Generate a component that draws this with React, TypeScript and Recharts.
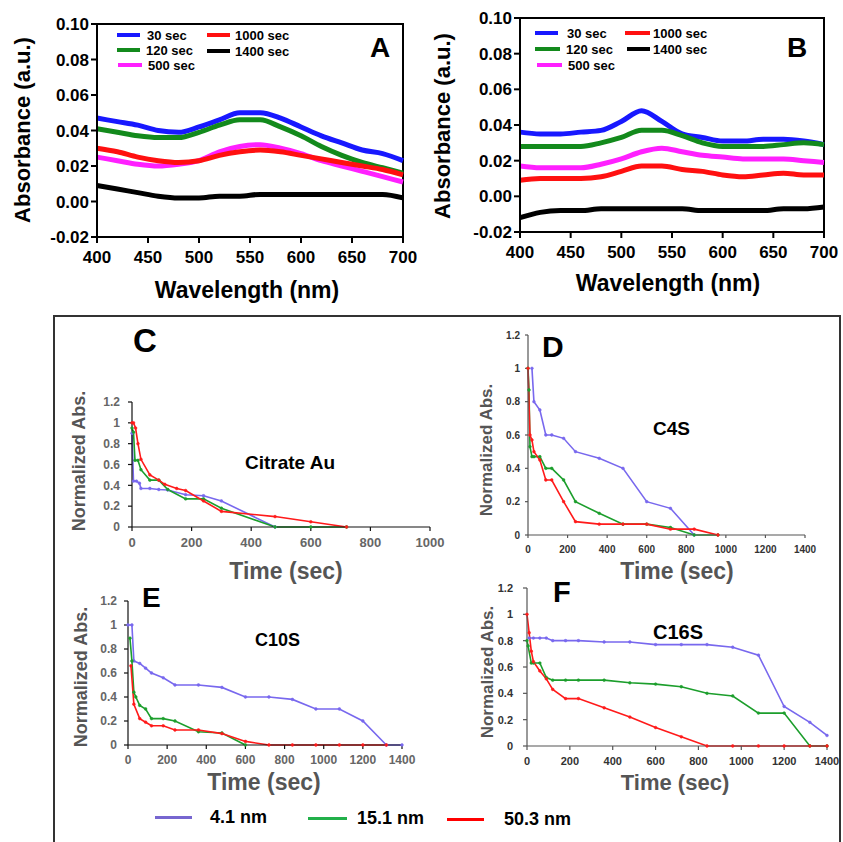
import React from 'react';
import { LineChart, Line, XAxis, YAxis, ReferenceArea } from 'recharts';

const FONT = '"Liberation Sans", Arial, Helvetica, sans-serif';

// ---------- Spectra (panels A, B) ----------
const wavelengths = [400, 420, 440, 460, 480, 500, 520, 540, 560, 580, 600, 620, 640, 660, 680, 700];
const wlTicks = [400, 450, 500, 550, 600, 650, 700];
const absTicks = [-0.02, 0, 0.02, 0.04, 0.06, 0.08, 0.1];

const aSec30 = [0.047, 0.045, 0.043, 0.040, 0.039, 0.042, 0.046, 0.050, 0.050, 0.047, 0.042, 0.037, 0.033, 0.029, 0.027, 0.023];
const aSec120 = [0.041, 0.039, 0.037, 0.036, 0.036, 0.039, 0.043, 0.046, 0.046, 0.042, 0.037, 0.031, 0.026, 0.022, 0.019, 0.016];
const aSec500 = [0.025, 0.023, 0.021, 0.020, 0.021, 0.023, 0.028, 0.031, 0.032, 0.030, 0.027, 0.023, 0.020, 0.017, 0.014, 0.011];
const aSec1000 = [0.030, 0.028, 0.025, 0.023, 0.022, 0.023, 0.026, 0.028, 0.029, 0.028, 0.026, 0.024, 0.022, 0.020, 0.018, 0.015];
const aSec1400 = [0.009, 0.007, 0.005, 0.003, 0.002, 0.002, 0.003, 0.003, 0.004, 0.004, 0.004, 0.004, 0.004, 0.004, 0.004, 0.002];

const bSec30 = [0.036, 0.035, 0.035, 0.036, 0.037, 0.042, 0.048, 0.042, 0.035, 0.033, 0.031, 0.031, 0.032, 0.032, 0.031, 0.029];
const bSec120 = [0.028, 0.028, 0.028, 0.028, 0.030, 0.033, 0.037, 0.037, 0.034, 0.030, 0.028, 0.028, 0.028, 0.029, 0.030, 0.029];
const bSec500 = [0.017, 0.016, 0.016, 0.016, 0.018, 0.021, 0.025, 0.027, 0.025, 0.023, 0.022, 0.021, 0.021, 0.021, 0.020, 0.019];
const bSec1000 = [0.009, 0.010, 0.010, 0.010, 0.011, 0.014, 0.017, 0.017, 0.015, 0.014, 0.012, 0.011, 0.012, 0.013, 0.012, 0.012];
const bSec1400 = [-0.012, -0.009, -0.008, -0.008, -0.007, -0.007, -0.007, -0.007, -0.007, -0.008, -0.008, -0.008, -0.008, -0.007, -0.007, -0.006];

const spectraSeries = [
  { key: 's30', name: '30 sec', color: '#1818ff' },
  { key: 's120', name: '120 sec', color: '#138a1c' },
  { key: 's500', name: '500 sec', color: '#ff20ff' },
  { key: 's1000', name: '1000 sec', color: '#ff1010' },
  { key: 's1400', name: '1400 sec', color: '#000000' },
];

function buildRows(s30: number[], s120: number[], s500: number[], s1000: number[], s1400: number[]) {
  return wavelengths.map((w, i) => ({ w, s30: s30[i], s120: s120[i], s500: s500[i], s1000: s1000[i], s1400: s1400[i] }));
}
const rowsA = buildRows(aSec30, aSec120, aSec500, aSec1000, aSec1400);
const rowsB = buildRows(bSec30, bSec120, bSec500, bSec1000, bSec1400);

// ---------- Time courses (panels C-F) ----------
const sizeSeries = [
  { name: '4.1 nm', color: '#7868ee', legend: '#7766d0' },
  { name: '15.1 nm', color: '#1c9e2c', legend: '#22b04a' },
  { name: '50.3 nm', color: '#ff1a1a', legend: '#ff0000' },
];

const cBlueT = [0, 5, 15, 25, 30, 60, 90, 120, 180, 240, 300, 480];
const cBlueY = [0.9, 0.44, 0.44, 0.42, 0.37, 0.37, 0.36, 0.355, 0.31, 0.30, 0.25, 0];
const cGreenT = [0, 5, 10, 20, 30, 60, 90, 120, 180, 240, 300, 480, 600, 720];
const cGreenY = [0.95, 0.91, 0.64, 0.64, 0.55, 0.45, 0.45, 0.36, 0.27, 0.27, 0.18, 0, 0, 0];
const cRedT = [0, 5, 12, 20, 30, 60, 90, 110, 150, 180, 240, 300, 480, 600, 720];
const cRedY = [1.0, 1.0, 0.95, 0.80, 0.65, 0.50, 0.45, 0.41, 0.37, 0.35, 0.25, 0.15, 0.10, 0.05, 0];

const dBlueT = [20, 30, 60, 90, 120, 180, 240, 360, 480, 600, 720, 840];
const dBlueY = [1.0, 0.80, 0.75, 0.60, 0.60, 0.58, 0.50, 0.46, 0.40, 0.20, 0.16, 0];
const dGreenT = [0, 5, 10, 20, 30, 60, 90, 120, 180, 240, 360, 480, 600, 720, 840, 960];
const dGreenY = [1.0, 0.87, 0.53, 0.47, 0.47, 0.47, 0.40, 0.40, 0.33, 0.20, 0.13, 0.065, 0.065, 0.045, 0, 0];
const dRedT = [0, 10, 20, 30, 60, 90, 120, 180, 240, 360, 480, 600, 720, 840, 960];
const dRedY = [1.0, 0.60, 0.57, 0.50, 0.45, 0.33, 0.33, 0.20, 0.08, 0.065, 0.065, 0.065, 0.035, 0.035, 0];

const eBlueT = [0, 20, 30, 60, 90, 120, 180, 240, 360, 480, 600, 720, 840, 960, 1080, 1200, 1320, 1400];
const eBlueY = [1.0, 1.0, 0.70, 0.68, 0.64, 0.60, 0.56, 0.50, 0.50, 0.48, 0.40, 0.40, 0.38, 0.30, 0.30, 0.20, 0, 0];
const eGreenT = [10, 20, 30, 40, 60, 90, 120, 180, 240, 360, 480, 600];
const eGreenY = [0.89, 0.70, 0.44, 0.40, 0.33, 0.30, 0.22, 0.22, 0.20, 0.11, 0.10, 0];
const eRedT = [15, 30, 60, 90, 120, 180, 240, 360, 480, 600, 720, 840, 960, 1080, 1200, 1320];
const eRedY = [0.66, 0.34, 0.22, 0.19, 0.16, 0.16, 0.125, 0.125, 0.095, 0.03, 0, 0, 0, 0, 0, 0];

const fBlueT = [10, 30, 60, 90, 120, 180, 240, 360, 480, 600, 720, 840, 960, 1080, 1200, 1320, 1400];
const fBlueY = [0.82, 0.82, 0.82, 0.82, 0.80, 0.80, 0.80, 0.79, 0.79, 0.77, 0.77, 0.77, 0.75, 0.69, 0.30, 0.18, 0.08];
const fGreenT = [0, 5, 20, 30, 60, 90, 120, 180, 240, 360, 480, 600, 720, 840, 960, 1080, 1200, 1320, 1400];
const fGreenY = [0.80, 0.76, 0.63, 0.63, 0.63, 0.52, 0.50, 0.50, 0.50, 0.50, 0.48, 0.47, 0.45, 0.40, 0.38, 0.25, 0.25, 0, 0];
const fRedT = [0, 10, 20, 30, 60, 90, 120, 180, 240, 360, 480, 600, 720, 840, 960, 1080, 1200, 1320, 1400];
const fRedY = [1.0, 0.86, 0.72, 0.64, 0.57, 0.51, 0.43, 0.36, 0.36, 0.29, 0.22, 0.14, 0.07, 0, 0, 0, 0, 0, 0];

const normTicks = [0, 0.2, 0.4, 0.6, 0.8, 1, 1.2];
const timeTicks1000 = [0, 200, 400, 600, 800, 1000];
const timeTicks1400 = [0, 200, 400, 600, 800, 1000, 1200, 1400];

const zip = (t: number[], y: number[]) => t.map((tt, i) => ({ t: tt, y: y[i] }));

// ---------- helpers ----------
type TextProps = { x: number; y: number; size: number; color?: string; bold?: boolean; anchor?: 'left' | 'center'; rotate?: boolean; children: React.ReactNode };
function T({ x, y, size, color = '#000', bold = true, anchor = 'left', rotate = false, children }: TextProps) {
  const tx = anchor === 'center' || rotate ? '-50%' : '0';
  return (
    <div
      style={{
        position: 'absolute', left: x, top: y, fontFamily: FONT, fontSize: size, fontWeight: bold ? 700 : 400,
        color, lineHeight: 1, whiteSpace: 'nowrap', zIndex: 5,
        transform: `translate(${tx}, -50%)${rotate ? ' rotate(-90deg)' : ''}`,
      }}
    >
      {children}
    </div>
  );
}

function LegendItem({ x1, x2, y, tx, color, label, size = 13, thick = 4, bold = true }: any) {
  return (
    <>
      <div style={{ position: 'absolute', left: x1, top: y - thick / 2, width: x2 - x1, height: thick, background: color, zIndex: 5 }} />
      <T x={tx} y={y} size={size} bold={bold}>{label}</T>
    </>
  );
}

function SpectraChart({ left, top, right, bottom, rows }: any) {
  const YW = 90, XH = 40, mt = 12, mr = 14, ml = 4, mb = 4;
  const plotW = right - left, plotH = bottom - top;
  const tickStyle = { fill: '#000', fontSize: 17, fontWeight: 700, fontFamily: FONT };
  return (
    <div style={{ position: 'absolute', left: left - YW - ml, top: top - mt }}>
      <LineChart width={ml + YW + plotW + mr} height={mt + plotH + XH + mb} data={rows} margin={{ top: mt, right: mr, bottom: mb, left: ml }}>
        <XAxis dataKey="w" type="number" domain={[400, 700]} ticks={wlTicks} height={XH} tick={tickStyle}
          tickSize={6} tickMargin={8} axisLine={{ stroke: '#000', strokeWidth: 2 }} tickLine={{ stroke: '#000', strokeWidth: 2 }} />
        <YAxis type="number" domain={[-0.02, 0.1]} ticks={absTicks} width={YW} tick={tickStyle}
          tickFormatter={(v: number) => v.toFixed(2)} tickSize={6} tickMargin={2}
          axisLine={{ stroke: '#000', strokeWidth: 2 }} tickLine={{ stroke: '#000', strokeWidth: 2 }} />
        <ReferenceArea x1={400} x2={700} y1={-0.02} y2={0.1} fill="none" fillOpacity={0} stroke="#000" strokeWidth={2} />
        {spectraSeries.map((s) => (
          <Line key={s.key} dataKey={s.key} name={s.name} stroke={s.color} strokeWidth={5} dot={false} type="monotone" isAnimationActive={false} />
        ))}
      </LineChart>
    </div>
  );
}

function TimeChart({ left, top, right, bottom, xMax, xTicks, fontSize, xFontSize, tickColor, ySize, yMargin, xSize, xMargin, axisColor, series }: any) {
  const YW = 45, XH = 30, mt = 10, mr = 16, ml = 4, mb = 4;
  const plotW = right - left, plotH = bottom - top;
  const yTick = { fill: tickColor, fontSize, fontWeight: 700, fontFamily: FONT };
  const xTick = { fill: tickColor, fontSize: xFontSize, fontWeight: 700, fontFamily: FONT };
  return (
    <div style={{ position: 'absolute', left: left - YW - ml, top: top - mt }}>
      <LineChart width={ml + YW + plotW + mr} height={mt + plotH + XH + mb} margin={{ top: mt, right: mr, bottom: mb, left: ml }}>
        <XAxis dataKey="t" type="number" domain={[0, xMax]} ticks={xTicks} height={XH} tick={xTick}
          tickSize={xSize} tickMargin={xMargin} axisLine={{ stroke: axisColor, strokeWidth: 1.2 }} tickLine={{ stroke: axisColor, strokeWidth: 1.2 }} allowDuplicatedCategory={false} />
        <YAxis type="number" domain={[0, 1.2]} ticks={normTicks} width={YW} tick={yTick}
          tickSize={ySize} tickMargin={yMargin} axisLine={{ stroke: axisColor, strokeWidth: 1.2 }} tickLine={{ stroke: axisColor, strokeWidth: 1.2 }} />
        {series.map((s: any, i: number) => (
          <Line key={i} data={s.data} dataKey="y" name={sizeSeries[i].name} stroke={sizeSeries[i].color} strokeWidth={1.6}
            dot={{ r: 1.4, fill: sizeSeries[i].color, stroke: sizeSeries[i].color, strokeWidth: 0.5 }} type="linear" isAnimationActive={false} />
        ))}
      </LineChart>
    </div>
  );
}

export default function App() {
  return (
    <div style={{ position: 'absolute', left: 0, top: 0, width: 843, height: 842, background: '#fff', overflow: 'hidden', fontFamily: FONT }}>
      {/* Panel A */}
      <SpectraChart left={97} top={24} right={403} bottom={237} rows={rowsA} />
      <T x={23} y={130} size={22} rotate>Absorbance (a.u.)</T>
      <T x={247} y={290} size={23} anchor="center">Wavelength (nm)</T>
      <T x={370} y={48} size={28}>A</T>
      <LegendItem x1={117} x2={140} y={35} tx={147} color="#1818ff" label="30 sec" />
      <LegendItem x1={117} x2={140} y={50} tx={146} color="#138a1c" label="120 sec" />
      <LegendItem x1={118} x2={142} y={65} tx={148} color="#ff20ff" label="500 sec" />
      <LegendItem x1={207} x2={230} y={35} tx={235} color="#ff1010" label="1000 sec" />
      <LegendItem x1={207} x2={230} y={51} tx={235} color="#000000" label="1400 sec" />

      {/* Panel B */}
      <SpectraChart left={520} top={18} right={824} bottom={232} rows={rowsB} />
      <T x={443} y={126} size={22} rotate>Absorbance (a.u.)</T>
      <T x={668} y={283} size={23} anchor="center">Wavelength (nm)</T>
      <T x={787} y={48} size={28}>B</T>
      <LegendItem x1={535} x2={558} y={33} tx={567} color="#1818ff" label="30 sec" />
      <LegendItem x1={535} x2={560} y={49} tx={566} color="#138a1c" label="120 sec" />
      <LegendItem x1={537} x2={562} y={65} tx={568} color="#ff20ff" label="500 sec" />
      <LegendItem x1={625} x2={650} y={33} tx={653} color="#ff1010" label="1000 sec" />
      <LegendItem x1={627} x2={650} y={49} tx={653} color="#000000" label="1400 sec" />

      {/* Bottom box */}
      <div style={{ position: 'absolute', left: 53, top: 315, width: 788, height: 560, border: '2px solid #333', boxSizing: 'border-box' }} />

      {/* Panel C */}
      <TimeChart left={132} top={402} right={430} bottom={527} xMax={1000} xTicks={timeTicks1000}
        fontSize={12} xFontSize={13} tickColor="#666" ySize={4} yMargin={8} xSize={4} xMargin={7} axisColor="#111"
        series={[{ data: zip(cBlueT, cBlueY) }, { data: zip(cGreenT, cGreenY) }, { data: zip(cRedT, cRedY) }]} />
      <T x={133} y={340} size={33}>C</T>
      <T x={245} y={462} size={19}>Citrate Au</T>
      <T x={79} y={461} size={18} color="#555" rotate>Normalized Abs.</T>
      <T x={286} y={571} size={23} color="#555" anchor="center">Time (sec)</T>

      {/* Panel D */}
      <TimeChart left={528} top={335} right={805} bottom={535} xMax={1400} xTicks={timeTicks1400}
        fontSize={10} xFontSize={10} tickColor="#333" ySize={3} yMargin={5} xSize={3} xMargin={8} axisColor="#555"
        series={[{ data: zip(dBlueT, dBlueY) }, { data: zip(dGreenT, dGreenY) }, { data: zip(dRedT, dRedY) }]} />
      <T x={542} y={347} size={30}>D</T>
      <T x={653} y={428} size={19}>C4S</T>
      <T x={486} y={450} size={17} color="#555" rotate>Normalized Abs.</T>
      <T x={677} y={571} size={23} color="#555" anchor="center">Time (sec)</T>

      {/* Panel E */}
      <TimeChart left={128} top={601} right={402} bottom={745} xMax={1400} xTicks={timeTicks1400}
        fontSize={12} xFontSize={12} tickColor="#666" ySize={4} yMargin={7} xSize={4} xMargin={6} axisColor="#111"
        series={[{ data: zip(eBlueT, eBlueY) }, { data: zip(eGreenT, eGreenY) }, { data: zip(eRedT, eRedY) }]} />
      <T x={142} y={598} size={28}>E</T>
      <T x={255} y={640} size={18}>C10S</T>
      <T x={81} y={677} size={18} color="#555" rotate>Normalized Abs.</T>
      <T x={264} y={782} size={23} color="#555" anchor="center">Time (sec)</T>

      {/* Panel F */}
      <TimeChart left={527} top={588} right={827} bottom={746} xMax={1400} xTicks={timeTicks1400}
        fontSize={11} xFontSize={11} tickColor="#333" ySize={4} yMargin={10} xSize={4} xMargin={7} axisColor="#555"
        series={[{ data: zip(fBlueT, fBlueY) }, { data: zip(fGreenT, fGreenY) }, { data: zip(fRedT, fRedY) }]} />
      <T x={553} y={592} size={29}>F</T>
      <T x={653} y={632} size={20}>C16S</T>
      <T x={487} y={672} size={17} color="#555" rotate>Normalized Abs.</T>
      <T x={675} y={783} size={22} color="#555" anchor="center">Time (sec)</T>

      {/* Bottom legend */}
      <LegendItem x1={155} x2={192} y={817} tx={210} color={sizeSeries[0].legend} label={sizeSeries[0].name} size={18} thick={3} />
      <LegendItem x1={308} x2={347} y={818} tx={357} color={sizeSeries[1].legend} label={sizeSeries[1].name} size={18} thick={3} />
      <LegendItem x1={447} x2={484} y={819} tx={504} color={sizeSeries[2].legend} label={sizeSeries[2].name} size={18} thick={3} />
    </div>
  );
}
